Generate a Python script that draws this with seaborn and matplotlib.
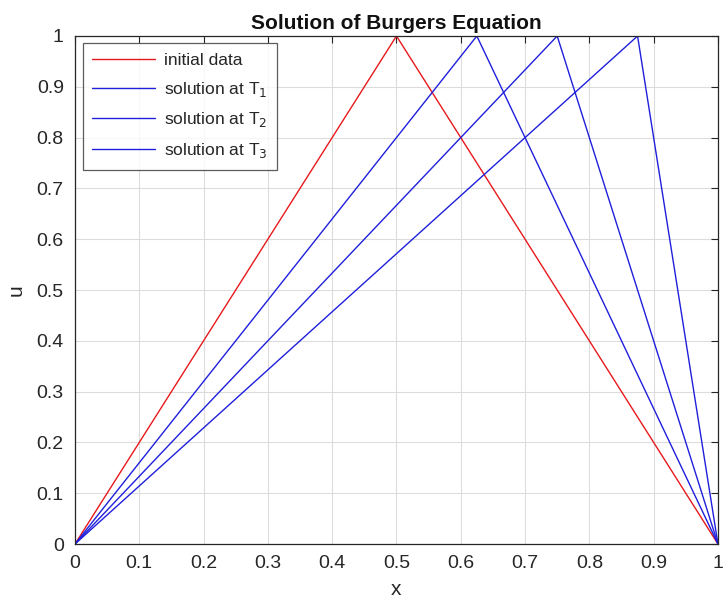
import matplotlib
matplotlib.use("Agg")
import matplotlib.pyplot as plt
import seaborn as sns
import pandas as pd

x_init = [0.0, 0.5, 1.0]
u_init = [0.0, 1.0, 0.0]
x_t1 = [0.0, 0.625, 1.0]
u_t1 = [0.0, 1.0, 0.0]
x_t2 = [0.0, 0.75, 1.0]
u_t2 = [0.0, 1.0, 0.0]
x_t3 = [0.0, 0.875, 1.0]
u_t3 = [0.0, 1.0, 0.0]
labels = ["initial data", "solution at T$_1$", "solution at T$_2$", "solution at T$_3$"]
colors = ["#e8191c", "#1f1fdc", "#1f1fdc", "#1f1fdc"]

frames = []
for lab, xs, us in zip(labels, [x_init, x_t1, x_t2, x_t3], [u_init, u_t1, u_t2, u_t3]):
    frames.append(pd.DataFrame({"x": xs, "u": us, "series": lab}))
df = pd.concat(frames, ignore_index=True)

sns.set_style("white")
plt.rcParams['font.family'] = ['Liberation Sans', 'DejaVu Sans']

fig = plt.figure(figsize=(7.23, 6.05), dpi=100)
ax = fig.add_axes([0.1037, 0.1008, 0.8893, 0.8397])
sns.lineplot(data=df, x="x", y="u", hue="series", palette=dict(zip(labels, colors)),
             sort=False, estimator=None, linewidth=1.0, ax=ax)

ax.set_xlim(0, 1)
ax.set_ylim(0, 1)
ticks = [i / 10 for i in range(11)]
ticklabels = ["0", "0.1", "0.2", "0.3", "0.4", "0.5", "0.6", "0.7", "0.8", "0.9", "1"]
ax.set_xticks(ticks)
ax.set_xticklabels(ticklabels)
ax.set_yticks(ticks)
ax.set_yticklabels(ticklabels)
ax.grid(True, color="#dcdcdc", linewidth=0.8)
ax.tick_params(direction="in", length=5, width=0.8, colors="#262626", labelsize=14,
               top=True, right=True, pad=8)
for s in ax.spines.values():
    s.set_visible(True)
    s.set_color("#262626")
    s.set_linewidth(0.9)
ax.set_xlabel("x", fontsize=15, color="#262626", labelpad=6)
ax.set_ylabel("u", fontsize=15, color="#262626", labelpad=8)
ax.set_title("Solution of Burgers Equation", fontsize=15, fontweight="bold", color="#111111", pad=5)

leg = ax.legend(loc="upper left", fontsize=12.5, frameon=True, fancybox=False,
                edgecolor="#333333", handlelength=3.6, borderpad=0.55, labelspacing=0.68,
                handletextpad=0.5, borderaxespad=0, bbox_to_anchor=(0.0124, 0.986))
leg.get_frame().set_linewidth(0.9)
for t in leg.get_texts():
    t.set_color("#262626")

fig.savefig("out.png", dpi=100)
